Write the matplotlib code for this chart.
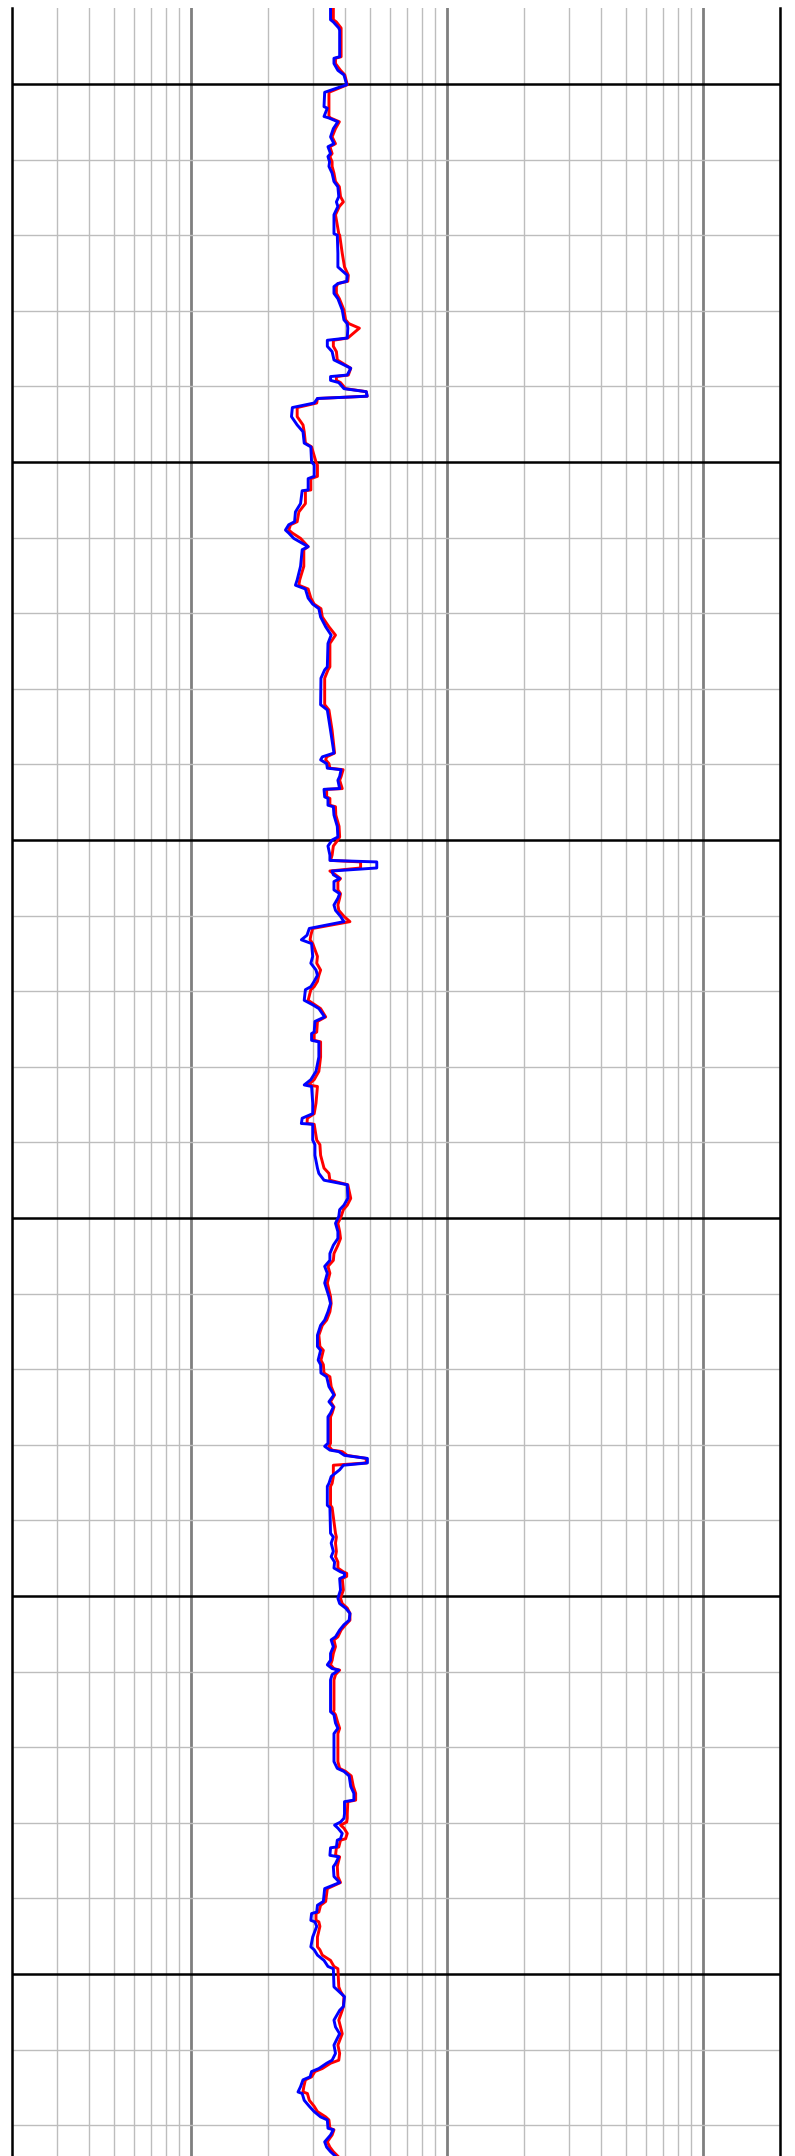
import numpy as np
import matplotlib
matplotlib.use("Agg")
import matplotlib.pyplot as plt
from matplotlib.ticker import FixedLocator, LogLocator, NullFormatter

# --- datos (profundidad, resistividades) ---
depth = [
    1990.0, 1991.5, 1991.8, 1992.6, 1992.9, 1996.4, 1996.6, 1997.3, 1998.2, 1998.8,
    2000.1, 2001.1, 2003.0, 2003.2, 2004.3, 2004.5, 2005.0, 2005.9, 2007.0, 2007.9,
    2008.3, 2009.2, 2009.6, 2010.3, 2010.9, 2011.8, 2012.9, 2013.6, 2014.9, 2015.6,
    2016.2, 2017.3, 2019.8, 2020.0, 2022.4, 2024.2, 2025.3, 2026.1, 2026.4, 2026.8,
    2027.7, 2028.4, 2029.9, 2031.2, 2031.7, 2032.3, 2033.6, 2033.9, 2034.7, 2035.4,
    2036.5, 2037.6, 2038.5, 2038.7, 2039.2, 2039.5, 2040.3, 2040.7, 2041.3, 2041.6,
    2042.2, 2042.8, 2044.0, 2045.1, 2046.0, 2047.5, 2048.0, 2050.0, 2050.4, 2051.9,
    2052.2, 2053.7, 2053.8, 2055.5, 2056.6, 2057.9, 2058.3, 2059.0, 2059.4, 2060.1,
    2061.2, 2061.6, 2063.8, 2065.6, 2066.3, 2066.8, 2068.0, 2068.8, 2069.4, 2070.5,
    2071.8, 2072.9, 2074.0, 2077.1, 2077.5, 2078.6, 2082.1, 2082.8, 2085.5, 2088.5,
    2089.0, 2089.4, 2089.9, 2090.5, 2090.7, 2091.6, 2092.1, 2093.2, 2093.3, 2094.3,
    2094.5, 2095.4, 2095.6, 2096.7, 2098.2, 2099.6, 2100.0, 2100.8,
    2102.0, 2102.7, 2102.9, 2103.7, 2104.1, 2104.6, 2105.1, 2105.5, 2106.6, 2107.1,
    2107.7, 2108.6, 2109.3, 2110.1, 2110.8, 2111.7, 2112.6, 2113.2, 2113.7, 2115.4,
    2116.3, 2117.2, 2117.9, 2118.7, 2119.4, 2119.8, 2121.2, 2121.8, 2122.3, 2123.4,
    2124.0, 2125.4, 2125.6, 2126.5, 2126.7, 2128.7, 2130.6, 2131.7, 2132.4, 2132.6,
    2134.8, 2136.2, 2136.8, 2137.5, 2137.6, 2139.7, 2140.3, 2141.7, 2143.4, 2144.1,
    2145.0, 2145.6, 2147.4, 2148.3, 2148.9, 2149.8, 2150.7, 2151.8, 2152.7, 2153.6,
    2154.7, 2155.6, 2156.4, 2157.3,
    2158.6, 2160.4, 2161.3, 2162.4, 2163.5, 2164.2, 2165.5, 2167.0, 2167.5, 2168.8,
    2169.4, 2170.5, 2171.0, 2172.3, 2173.4, 2174.3, 2175.0, 2175.8, 2176.3, 2179.8,
    2180.2, 2180.7, 2180.9, 2181.4, 2181.8, 2182.4, 2182.7, 2183.3, 2184.2, 2185.1,
    2185.5, 2188.0, 2188.3, 2191.7, 2192.2, 2193.0, 2194.1, 2194.8, 2195.5, 2196.3,
    2196.8, 2197.0, 2197.4, 2197.7, 2199.2, 2200.3, 2201.0, 2201.6, 2202.3, 2203.2,
    2203.8, 2204.5, 2205.4, 2205.8, 2206.7, 2207.6, 2208.5, 2209.1, 2209.6, 2209.8,
    2210.4, 2211.1, 2215.1,
    2215.3, 2215.7, 2216.8, 2217.5, 2218.2, 2221.9, 2222.8, 2223.2, 2223.8, 2225.2,
    2226.1, 2227.0, 2227.2, 2228.8, 2229.4, 2229.9, 2230.3, 2230.7, 2231.4, 2232.1,
    2232.3, 2233.2, 2233.3, 2234.3, 2234.5, 2235.4, 2235.8, 2237.1, 2237.9, 2238.7,
    2240.4, 2240.9, 2241.8, 2242.0, 2242.9, 2243.1, 2243.7, 2245.1, 2246.4, 2246.8,
    2247.5, 2248.2, 2249.0, 2249.3, 2251.7, 2252.3, 2253.0, 2254.3, 2254.8, 2256.1,
    2257.0, 2257.9, 2258.5, 2259.4, 2260.5, 2261.4, 2261.8, 2262.5, 2262.9, 2263.6,
    2264.0, 2264.9, 2265.6, 2265.8, 2266.7, 2267.5, 2268.2, 2268.9, 2269.3, 2270.4,
    2270.6, 2271.3, 2271.7, 2272.2, 2272.9, 2273.5, 2274.1,
]

# curva azul (somera)
res_shallow = [
    3.51, 3.51, 3.60, 3.78, 3.81, 3.81, 3.62, 3.62, 3.75, 3.96,
    4.06, 3.33, 3.31, 3.41, 3.31, 3.46, 3.75, 3.60, 3.51, 3.62,
    3.43, 3.51, 3.43, 3.48, 3.46, 3.56, 3.62, 3.75, 3.78, 3.70,
    3.75, 3.62, 3.62, 3.73, 3.75, 3.75, 4.08, 4.06, 3.75, 3.62,
    3.62, 3.75, 3.90, 3.96, 4.08, 4.10, 4.08, 3.41, 3.41, 3.56,
    3.62, 4.21, 4.08, 3.51, 3.51, 3.78, 3.96, 4.84, 4.88, 3.12,
    3.03, 2.49, 2.47, 2.60, 2.74, 2.77, 2.94, 2.96, 3.03, 3.03,
    2.87, 2.87, 2.72, 2.68, 2.56, 2.54, 2.41, 2.34, 2.41, 2.52,
    2.87, 2.72, 2.68, 2.60, 2.56, 2.80, 2.87, 2.99, 3.16, 3.21,
    3.36, 3.53, 3.43, 3.41, 3.33, 3.22, 3.21, 3.41, 3.51, 3.62,
    3.26, 3.21, 3.39, 3.41, 3.86, 3.81, 3.75, 3.81, 3.31, 3.33,
    3.43, 3.43, 3.60, 3.62, 3.73, 3.75, 3.56, 3.43,
    3.49, 3.49, 5.32, 5.32, 3.56, 3.60, 3.81, 3.62, 3.62, 3.81,
    3.75, 3.62, 3.67, 3.84, 3.96, 2.90, 2.84, 2.70, 2.96, 2.99,
    2.94, 3.08, 3.12, 3.03, 2.94, 2.80, 2.77, 2.99, 3.16, 3.33,
    3.05, 3.03, 2.96, 2.96, 3.16, 3.16, 3.08, 2.94, 2.77, 2.96,
    2.99, 2.99, 2.72, 2.70, 2.99, 2.99, 3.05, 3.05, 3.12, 3.16,
    3.31, 4.08, 4.10, 3.96, 3.81, 3.78, 3.67, 3.75, 3.75, 3.60,
    3.49, 3.49, 3.33, 3.41,
    3.33, 3.46, 3.51, 3.43, 3.33, 3.21, 3.12, 3.12, 3.21, 3.14,
    3.21, 3.22, 3.39, 3.46, 3.62, 3.46, 3.60, 3.51, 3.43, 3.43,
    3.33, 3.49, 3.78, 3.98, 4.89, 4.89, 3.94, 3.81, 3.53, 3.46,
    3.41, 3.41, 3.49, 3.51, 3.60, 3.53, 3.60, 3.53, 3.64, 3.62,
    3.84, 3.98, 3.98, 3.81, 3.84, 3.75, 3.81, 4.02, 4.18, 4.15,
    3.96, 3.81, 3.67, 3.53, 3.60, 3.51, 3.51, 3.41, 3.56, 3.78,
    3.56, 3.51, 3.51,
    3.51, 3.62, 3.67, 3.75, 3.62, 3.62, 3.73, 3.96, 4.15, 4.21,
    4.33, 4.33, 3.98, 3.98, 3.96, 3.84, 3.64, 3.75, 3.90, 3.84,
    3.73, 3.70, 3.51, 3.49, 3.78, 3.67, 3.60, 3.62, 3.81, 3.33,
    3.29, 3.12, 3.10, 2.96, 2.94, 3.05, 3.10, 2.99, 2.94, 3.03,
    3.12, 3.31, 3.43, 3.60, 3.62, 3.78, 3.98, 3.94, 3.81, 3.62,
    3.67, 3.81, 3.73, 3.62, 3.67, 3.56, 3.39, 3.16, 2.96, 2.92,
    2.74, 2.68, 2.62, 2.72, 2.77, 2.90, 3.03, 3.21, 3.41, 3.43,
    3.60, 3.51, 3.43, 3.33, 3.39, 3.51, 3.67,
]

# curva roja (profunda)
res_deep = [
    3.60, 3.60, 3.70, 3.86, 3.86, 3.86, 3.67, 3.67, 3.84, 3.99,
    4.08, 3.46, 3.46, 3.46, 3.46, 3.51, 3.80, 3.67, 3.56, 3.67,
    3.49, 3.56, 3.49, 3.56, 3.56, 3.62, 3.67, 3.80, 3.84, 3.94,
    3.80, 3.67, 3.78, 3.81, 3.90, 3.98, 4.12, 4.10, 3.75, 3.70,
    3.70, 3.80, 3.96, 4.02, 4.14, 4.55, 4.10, 3.60, 3.60, 3.70,
    3.73, 4.21, 4.12, 3.70, 3.70, 3.84, 4.02, 4.84, 4.88, 3.12,
    3.10, 2.60, 2.60, 2.74, 2.77, 2.80, 2.96, 3.08, 3.12, 3.12,
    2.94, 2.94, 2.80, 2.80, 2.64, 2.60, 2.45, 2.41, 2.49, 2.68,
    2.87, 2.76, 2.76, 2.66, 2.64, 2.87, 2.94, 3.03, 3.22, 3.26,
    3.46, 3.67, 3.49, 3.49, 3.43, 3.33, 3.33, 3.46, 3.56, 3.64,
    3.39, 3.36, 3.46, 3.49, 3.93, 3.86, 3.81, 3.90, 3.39, 3.39,
    3.49, 3.49, 3.67, 3.68, 3.79, 3.81, 3.75, 3.60,
    3.56, 3.51, 4.60, 4.60, 3.49, 3.67, 3.84, 3.75, 3.75, 3.84,
    3.81, 3.75, 3.78, 3.96, 4.18, 2.99, 2.94, 2.92, 2.99, 3.12,
    3.10, 3.21, 3.16, 3.12, 3.03, 2.94, 2.87, 3.05, 3.21, 3.36,
    3.12, 3.10, 3.03, 3.03, 3.21, 3.21, 3.16, 3.03, 2.87, 3.12,
    3.08, 3.03, 2.85, 2.84, 3.03, 3.10, 3.19, 3.21, 3.31, 3.46,
    3.49, 4.10, 4.21, 4.08, 3.94, 3.86, 3.75, 3.81, 3.84, 3.75,
    3.62, 3.60, 3.43, 3.49,
    3.41, 3.51, 3.53, 3.49, 3.39, 3.26, 3.16, 3.19, 3.29, 3.22,
    3.29, 3.31, 3.49, 3.53, 3.64, 3.51, 3.62, 3.56, 3.51, 3.51,
    3.46, 3.56, 3.90, 4.08, 4.84, 4.84, 3.60, 3.60, 3.60, 3.56,
    3.51, 3.51, 3.56, 3.67, 3.70, 3.67, 3.70, 3.67, 3.75, 3.75,
    3.94, 4.06, 4.06, 3.90, 3.94, 3.84, 3.90, 4.08, 4.18, 4.18,
    4.02, 3.86, 3.75, 3.62, 3.67, 3.60, 3.56, 3.51, 3.62, 3.81,
    3.67, 3.62, 3.62,
    3.60, 3.67, 3.75, 3.81, 3.75, 3.75, 3.81, 4.02, 4.23, 4.31,
    4.40, 4.40, 4.10, 4.08, 4.08, 4.06, 3.84, 3.96, 4.08, 4.02,
    3.84, 3.78, 3.70, 3.67, 3.81, 3.75, 3.73, 3.75, 3.84, 3.41,
    3.36, 3.21, 3.16, 3.08, 3.08, 3.16, 3.19, 3.12, 3.12, 3.19,
    3.26, 3.51, 3.62, 3.75, 3.78, 3.84, 3.96, 3.94, 3.90, 3.78,
    3.84, 3.90, 3.84, 3.75, 3.81, 3.78, 3.51, 3.26, 3.05, 2.96,
    2.80, 2.76, 2.74, 2.85, 2.90, 3.03, 3.12, 3.36, 3.46, 3.49,
    3.62, 3.56, 3.49, 3.41, 3.49, 3.60, 3.75,
]

# ─── Figura ───────────────────────────────────────────────────────────────────
W, H = 795, 2156
fig = plt.figure(figsize=(W / 100, H / 100), dpi=100)
ax = fig.add_axes([12 / W, 0, 768 / W, 2148 / H])

ax.plot(res_deep, depth, color='#ff0000', lw=2.1, zorder=3)
ax.plot(res_shallow, depth, color='#0000ff', lw=2.1, zorder=4)

ax.set_xscale('log')
ax.set_xlim(0.2, 200)
ax.set_ylim(2274.07, 1989.95)

# rejilla logaritmica en x
ax.xaxis.set_major_locator(LogLocator(base=10, numticks=10))
ax.xaxis.set_minor_locator(LogLocator(base=10, subs=np.arange(2, 10), numticks=20))
ax.xaxis.set_minor_formatter(NullFormatter())
# rejilla de profundidad
ax.yaxis.set_major_locator(FixedLocator(np.arange(2000, 2275, 50)))
ax.yaxis.set_minor_locator(FixedLocator(np.arange(2010, 2275, 10)))

ax.grid(which='minor', axis='both', color='#bdbdbd', lw=1.0, zorder=1)
ax.grid(which='major', axis='x', color='#7f7f7f', lw=2.0, zorder=2)
ax.grid(which='major', axis='y', color='black', lw=1.8, zorder=2)
ax.set_axisbelow(True)

ax.tick_params(which='both', length=0, labelbottom=False, labelleft=False)
for s in ['top', 'bottom']:
    ax.spines[s].set_visible(False)
for s in ['left', 'right']:
    ax.spines[s].set_linewidth(1.8)
    ax.spines[s].set_color('black')

fig.savefig('out.png', dpi=100)
